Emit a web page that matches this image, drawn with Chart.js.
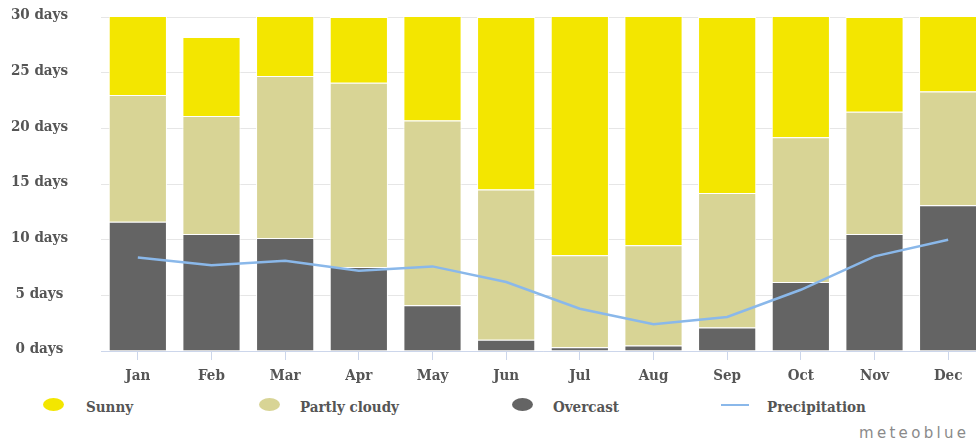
<!DOCTYPE html>
<html>
<head>
<meta charset="utf-8">
<script src="https://cdn.jsdelivr.net/npm/chart.js@4"></script>
<style>
  body { margin: 0; background: #fff; overflow: hidden; }
  #wrap { position: relative; width: 976px; height: 445px; overflow: hidden; }
  #box { position: absolute; left: 0; top: 0; width: 985px; height: 390px; }
  .lg { position: absolute; font: bold 15px 'DejaVu Serif Condensed', 'DejaVu Serif', serif; color: #555; top: 398px; }
  .dot { position: absolute; width: 21px; height: 13px; border-radius: 50%; top: 398px; }
  .ln { position: absolute; width: 28px; height: 2px; background: #8ab8ea; top: 404px; }
  #mb { position: absolute; left: 859px; top: 424px; font: 15px 'DejaVu Sans', sans-serif; color: #8a8a8a; letter-spacing: 3.3px; }
</style>
</head>
<body>
<div id="wrap">
  <div id="box"><canvas id="clima"></canvas></div>
  <div class="dot" style="left:43px;background:#f3e600"></div>
  <div class="lg" style="left:86px">Sunny</div>
  <div class="dot" style="left:259px;background:#d8d495"></div>
  <div class="lg" style="left:300px">Partly cloudy</div>
  <div class="dot" style="left:512px;background:#646464"></div>
  <div class="lg" style="left:553px">Overcast</div>
  <div class="ln" style="left:721px"></div>
  <div class="lg" style="left:767px">Precipitation</div>
  <div id="mb">meteoblue</div>
</div>
<script>
// datos (días por mes)
const meses = ['Jan', 'Feb', 'Mar', 'Apr', 'May', 'Jun', 'Jul', 'Aug', 'Sep', 'Oct', 'Nov', 'Dec'];
const nublado = [11.6, 10.5, 10.15, 7.55, 4.1, 1.0, 0.33, 0.5, 2.1, 6.2, 10.5, 13.1];
const parcial = [11.4, 10.6, 14.55, 16.55, 16.6, 13.5, 8.27, 9.0, 12.1, 13.0, 11.0, 10.2];
const soleado = [8.0, 7.1, 6.3, 5.9, 10.3, 15.5, 22.4, 21.5, 15.8, 11.8, 8.5, 7.7];
const lluvia = [8.4, 7.7, 8.1, 7.2, 7.6, 6.2, 3.8, 2.4, 3.05, 5.5, 8.5, 10.0];
const ticksY = [0, 5, 10, 15, 20, 25, 30];

const fuente = { family: "'DejaVu Serif Condensed', 'DejaVu Serif', serif", size: 15, weight: 'bold' };

const ctx = document.getElementById('clima').getContext('2d');
const grafico = new Chart(ctx, {
    type: 'bar',
    data: {
        labels: meses,
        datasets: [
            { label: 'Precipitation', type: 'line', data: lluvia, borderColor: '#8ab8ea', borderWidth: 2.5, pointRadius: 0, tension: 0, order: 0, stack: 'lluvia' },
            { label: 'Overcast', data: nublado, backgroundColor: '#646464', borderColor: '#fff', borderWidth: 1, order: 1, stack: 'dias' },
            { label: 'Partly cloudy', data: parcial, backgroundColor: '#d8d495', borderColor: '#fff', borderWidth: 1, order: 1, stack: 'dias' },
            { label: 'Sunny', data: soleado, backgroundColor: '#f3e600', borderColor: '#fff', borderWidth: 1, order: 1, stack: 'dias' }
        ]
    },
    options: {
        responsive: true,
        maintainAspectRatio: false,
        animation: false,
        layout: { padding: { top: 17, left: 0, right: 0, bottom: 0 } },
        plugins: { legend: { display: false }, tooltip: { enabled: false } },
        datasets: { bar: { barPercentage: 0.79, categoryPercentage: 1 } },
        scales: {
            x: {
                stacked: true,
                grid: { offset: false, drawOnChartArea: false, drawTicks: true, tickLength: 9, color: '#ccd6eb' },
                border: { color: '#ccd6eb', width: 1 },
                ticks: { font: fuente, color: '#555', padding: 7 },
                afterFit: (s) => { s.height = 39; }
            },
            y: {
                stacked: true,
                min: 0,
                max: 30,
                afterBuildTicks: (s) => { s.ticks = ticksY.map(v => ({ value: v })); },
                grid: { color: '#e6e6e6', drawTicks: true, tickLength: 33, tickColor: 'rgba(0,0,0,0)' },
                border: { display: false },
                ticks: { font: fuente, color: '#555', padding: 0, crossAlign: 'center', labelOffset: -1.5, callback: (v) => v + ' days' },
                afterFit: (s) => { s.width = 101; }
            }
        }
    }
});
</script>
</body>
</html>
